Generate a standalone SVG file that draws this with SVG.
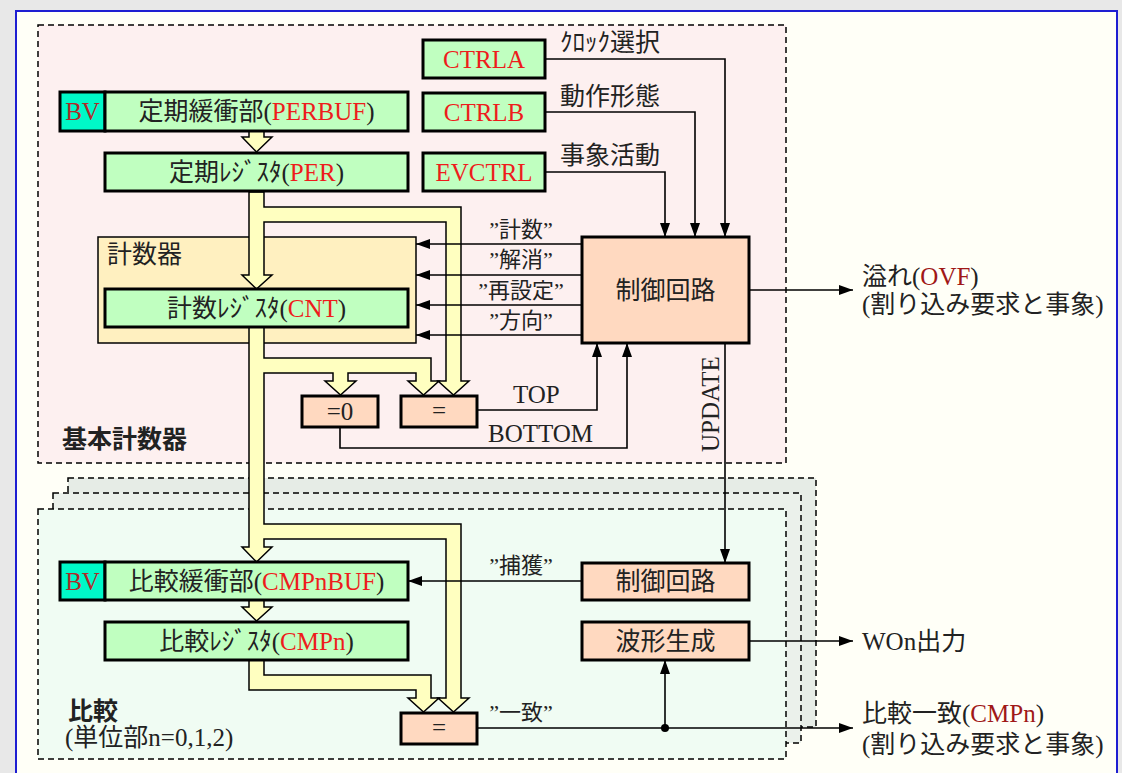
<svg xmlns="http://www.w3.org/2000/svg" width="1122" height="773" viewBox="0 0 1122 773">
<style>
.t{font-family:"Liberation Serif","Noto Sans CJK JP",serif;font-size:25px;fill:#222}
.m{text-anchor:middle}
.s{font-size:22px}
.red{fill:#ee1c1c}
.dred{fill:#a01818}
.bv{fill:#b02828}
.g{font-family:"Noto Sans CJK JP",sans-serif;font-weight:bold;fill:#222}
.box{stroke:#000;stroke-width:3}
.grn{fill:#c0ffc0}
.pch{fill:#ffd9c0}
.bus{fill:#ffffc0;stroke:#000;stroke-width:1.5;stroke-linejoin:miter}
.ln{fill:none;stroke:#000;stroke-width:1.6}
.reg{stroke:#000;stroke-width:1.5;stroke-dasharray:6 4}
</style>
<defs>
<marker id="ah" markerUnits="userSpaceOnUse" markerWidth="14" markerHeight="10" refX="14" refY="5" orient="auto">
<path d="M0,0 L14,5 L0,10 z" fill="#000"/>
</marker>
</defs>
<rect x="0" y="0" width="1122" height="773" fill="#e8e8e8"/>
<rect x="16" y="11" width="1101" height="780" fill="#fffff7" stroke="#1e1ed2" stroke-width="2"/>

<g id="regions">
<rect id="region-basic" class="reg" x="38" y="25" width="748" height="438" fill="#fdf0f0"/>
<rect id="region-cmp-back" class="reg" x="68" y="478" width="748" height="249" fill="#e6ece6"/>
<rect id="region-cmp-mid" class="reg" x="53" y="493" width="748" height="250" fill="#ebf1eb"/>
<rect id="region-cmp" class="reg" x="38" y="509" width="748" height="250" fill="#f0fcf3"/>
</g>

<g id="counter-group">
<rect x="98" y="237" width="318" height="106" fill="#fff0c0" stroke="#000" stroke-width="1.5"/>
<text class="t" x="107" y="263">計数器</text>
</g>

<g id="buses">
<path class="bus" d="M249,131 L249,137 L242,137 L256.5,152 L272,137 L264,137 L264,131"/>
<path class="bus" d="M249,600 L249,607 L242,607 L256.5,621 L272,607 L264,607 L264,600"/>
<path class="bus" d="M249,192 L249,275 L242,275 L256.5,289 L272,275 L264,275 L264,222 L446,222 L446,381 L438,381 L453.5,395 L469,381 L461,381 L461,207 L264,207 L264,192 Z"/>
<path class="bus" d="M249,327 L249,547 L242,547 L256.5,562 L272,547 L264,547 L264,539 L446,539 L446,698 L438,698 L453.5,712 L469,698 L461,698 L461,524 L264,524 L264,373 L333,373 L333,381 L325,381 L340.5,395 L356,381 L348,381 L348,373 L416,373 L416,381 L408,381 L423.5,395 L439,381 L431,381 L431,358 L264,358 L264,327 Z"/>
<path class="bus" d="M249,660 L249,690 L416,690 L416,698 L408,698 L423.5,712 L439,698 L431,698 L431,675 L264,675 L264,660 Z"/>
</g>

<g id="perbuf">
<rect x="60" y="92" width="45" height="39" fill="#00f8c8" stroke="#000" stroke-width="3"/>
<rect class="box grn" x="105" y="92" width="303" height="39"/>
<text class="t bv m" x="82.5" y="120">BV</text>
<text class="t m" x="256.5" y="120">定期緩衝部(<tspan class="red">PERBUF</tspan>)</text>
</g>
<g id="per">
<rect class="box grn" x="105" y="153" width="303" height="38"/>
<text class="t m" x="256.5" y="181">定期ﾚｼﾞｽﾀ(<tspan class="red">PER</tspan>)</text>
</g>
<g id="cnt">
<rect class="box grn" x="105" y="289" width="303" height="38"/>
<text class="t m" x="256.5" y="317">計数ﾚｼﾞｽﾀ(<tspan class="red">CNT</tspan>)</text>
</g>
<g id="ctrla">
<rect class="box grn" x="423" y="40" width="122" height="38"/>
<text class="t red m" x="484" y="68">CTRLA</text>
</g>
<g id="ctrlb">
<rect class="box grn" x="423" y="93" width="122" height="38"/>
<text class="t red m" x="484" y="121">CTRLB</text>
</g>
<g id="evctrl">
<rect class="box grn" x="423" y="153" width="122" height="38"/>
<text class="t red m" x="484" y="181">EVCTRL</text>
</g>
<g id="control">
<rect class="box pch" x="582" y="237" width="167" height="106"/>
<text class="t m" x="665.5" y="299">制御回路</text>
</g>
<g id="zero">
<rect class="box pch" x="302" y="396" width="76" height="31"/>
<text class="t m" x="340" y="420">=0</text>
</g>
<g id="eq-top">
<rect class="box pch" x="401" y="396" width="76" height="31"/>
<text class="t m" x="439" y="419">=</text>
</g>
<g id="cmpnbuf">
<rect x="60" y="562" width="45" height="38" fill="#00f8c8" stroke="#000" stroke-width="3"/>
<rect class="box grn" x="105" y="562" width="303" height="38"/>
<text class="t bv m" x="82.5" y="590">BV</text>
<text class="t m" x="256.5" y="590">比較緩衝部(<tspan class="red">CMPnBUF</tspan>)</text>
</g>
<g id="cmpn">
<rect class="box grn" x="105" y="622" width="303" height="38"/>
<text class="t m" x="256.5" y="650">比較ﾚｼﾞｽﾀ(<tspan class="red">CMPn</tspan>)</text>
</g>
<g id="control2">
<rect class="box pch" x="582" y="563" width="167" height="37"/>
<text class="t m" x="665.5" y="590">制御回路</text>
</g>
<g id="wavegen">
<rect class="box pch" x="582" y="622" width="167" height="38"/>
<text class="t m" x="665.5" y="650">波形生成</text>
</g>
<g id="eq-bottom">
<rect class="box pch" x="401" y="713" width="76" height="31"/>
<text class="t m" x="439" y="736">=</text>
</g>

<g id="connectors">
<polyline class="ln" points="545,59 725,59 725,237" marker-end="url(#ah)"/>
<polyline class="ln" points="545,112 695,112 695,237" marker-end="url(#ah)"/>
<polyline class="ln" points="545,172 665,172 665,237" marker-end="url(#ah)"/>
<line class="ln" x1="582" y1="244" x2="416" y2="244" marker-end="url(#ah)"/>
<line class="ln" x1="582" y1="275" x2="416" y2="275" marker-end="url(#ah)"/>
<line class="ln" x1="582" y1="305" x2="416" y2="305" marker-end="url(#ah)"/>
<line class="ln" x1="582" y1="335" x2="416" y2="335" marker-end="url(#ah)"/>
<line class="ln" x1="749" y1="290" x2="853" y2="290" marker-end="url(#ah)"/>
<line class="ln" x1="725" y1="343" x2="725" y2="563" marker-end="url(#ah)"/>
<polyline class="ln" points="477,410 597,410 597,343" marker-end="url(#ah)"/>
<polyline class="ln" points="340,427 340,448 627,448 627,343" marker-end="url(#ah)"/>
<line class="ln" x1="582" y1="581" x2="408" y2="581" marker-end="url(#ah)"/>
<line class="ln" x1="749" y1="641" x2="853" y2="641" marker-end="url(#ah)"/>
<line class="ln" x1="477" y1="728" x2="853" y2="728" marker-end="url(#ah)"/>
<line class="ln" x1="665" y1="728" x2="665" y2="660" marker-end="url(#ah)"/>
<circle cx="665" cy="728" r="4" fill="#000"/>
</g>

<g id="labels">
<text class="t" x="560" y="51">ｸﾛｯｸ選択</text>
<text class="t" x="560" y="105">動作形態</text>
<text class="t" x="560" y="164">事象活動</text>
<text class="t s m" x="521" y="237">”計数”</text>
<text class="t s m" x="521" y="267">”解消”</text>
<text class="t s m" x="521" y="298">”再設定”</text>
<text class="t s m" x="521" y="328">”方向”</text>
<text class="t s m" x="521" y="573">”捕獲”</text>
<text class="t s m" x="521" y="720">”一致”</text>
<text class="t" x="513" y="403">TOP</text>
<text class="t" x="488" y="442">BOTTOM</text>
<text class="t" transform="translate(719,452) rotate(-90)">UPDATE</text>
<text class="t" x="862" y="285">溢れ(<tspan class="dred">OVF</tspan>)</text>
<text class="t" x="862" y="313">(割り込み要求と事象)</text>
<text class="t" x="862" y="650">WOn出力</text>
<text class="t" x="862" y="722">比較一致(<tspan class="dred">CMPn</tspan>)</text>
<text class="t" x="862" y="753">(割り込み要求と事象)</text>
<text class="g" x="62" y="448" font-size="25">基本計数器</text>
<text class="g" x="68" y="720" font-size="25">比較</text>
<text class="t" x="65" y="746">(単位部n=0,1,2)</text>
</g>
</svg>
